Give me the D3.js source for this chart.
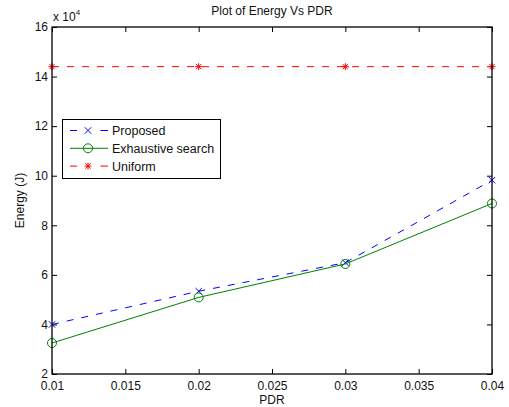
<!DOCTYPE html>
<html>
<head>
<meta charset="utf-8">
<script src="https://cdn.jsdelivr.net/npm/d3@7/dist/d3.min.js"></script>
<style>
  html, body { margin: 0; padding: 0; background: #fff; }
  svg { display: block; font-family: "Liberation Sans", Arial, Helvetica, sans-serif; }
</style>
</head>
<body>
<svg id="chart" width="509" height="407"></svg>
<script>
// PDR values on the x axis
const pdr = [0.01, 0.02, 0.03, 0.04];
// Energy (J) for each scheme
const proposed   = [40000, 53400, 64900, 98200];
const exhaustive = [32500, 50900, 64400, 88800];
const uniform    = [144000, 144000, 144000, 144000];

const xTicks = [0.01, 0.015, 0.02, 0.025, 0.03, 0.035, 0.04];
const yTicks = [2, 4, 6, 8, 10, 12, 14, 16];
const yScaleFactor = 1e4;

const svg = d3.select("#chart");
const m = { left: 52, right: 17, top: 27, bottom: 33 };
const W = 509, H = 407;
const x = d3.scaleLinear().domain([0.01, 0.04]).range([m.left, W - m.right]);
const y = d3.scaleLinear().domain([2, 16]).range([H - m.bottom, m.top]);

const plot = svg.append("g");
const FS = 12;

// Bottom and left axes with inward ticks
const xAxis = svg.append("g").attr("transform", `translate(0,${H - m.bottom})`)
  .call(d3.axisBottom(x).tickValues(xTicks).tickSizeInner(-5).tickSizeOuter(0).tickPadding(7)
    .tickFormat(d => String(+d.toFixed(3))));
const yAxis = svg.append("g").attr("transform", `translate(${m.left},0)`)
  .call(d3.axisLeft(y).tickValues(yTicks).tickSizeInner(-5).tickSizeOuter(0).tickPadding(4)
    .tickFormat(d3.format("d")));
// Top and right axes: ticks only
const xTop = svg.append("g").attr("transform", `translate(0,${m.top})`)
  .call(d3.axisTop(x).tickValues(xTicks).tickSizeInner(-5).tickSizeOuter(0).tickFormat(""));
const yRight = svg.append("g").attr("transform", `translate(${W - m.right},0)`)
  .call(d3.axisRight(y).tickValues(yTicks).tickSizeInner(-5).tickSizeOuter(0).tickFormat(""));

[xAxis, yAxis, xTop, yRight].forEach(g => {
  g.select(".domain").remove();
  g.selectAll(".tick line").attr("stroke", "#000").attr("stroke-width", 1);
  g.selectAll("text").attr("font-size", FS).attr("fill", "#111")
    .attr("font-family", "Liberation Sans, Arial, sans-serif");
});

// Frame
svg.append("rect")
  .attr("x", m.left).attr("y", m.top)
  .attr("width", W - m.left - m.right).attr("height", H - m.top - m.bottom)
  .attr("fill", "none").attr("stroke", "#000").attr("stroke-width", 1.3);

// Exponent label
const expLbl = svg.append("text").attr("x", m.left + 1).attr("y", 21)
  .attr("font-size", FS).attr("fill", "#111");
expLbl.append("tspan").text("x 10");
expLbl.append("tspan").attr("font-size", 8).attr("dy", -6).text("4");

// Title and axis labels
svg.append("text").attr("x", (m.left + W - m.right) / 2).attr("y", 15)
  .attr("text-anchor", "middle").attr("font-size", FS).attr("fill", "#111")
  .text("Plot of Energy Vs PDR");
svg.append("text").attr("x", (m.left + W - m.right) / 2).attr("y", 404)
  .attr("text-anchor", "middle").attr("font-size", FS).attr("fill", "#111").text("PDR");
svg.append("text").attr("transform", `translate(24,${(m.top + H - m.bottom) / 2}) rotate(-90)`)
  .attr("text-anchor", "middle").attr("font-size", FS).attr("fill", "#111").text("Energy (J)");

// Marker drawers
function drawMarker(g, type, cx, cy, color) {
  if (type === "x") {
    const s = 3.2;
    g.append("path").attr("d", `M${cx - s},${cy - s}L${cx + s},${cy + s}M${cx - s},${cy + s}L${cx + s},${cy - s}`)
      .attr("stroke", color).attr("stroke-width", 1).attr("fill", "none");
  } else if (type === "o") {
    g.append("circle").attr("cx", cx).attr("cy", cy).attr("r", 4.5)
      .attr("stroke", color).attr("stroke-width", 1).attr("fill", "none");
  } else if (type === "*") {
    const s = 3.5, d = 2.6;
    g.append("path").attr("d",
      `M${cx - s},${cy}L${cx + s},${cy}M${cx},${cy - s}L${cx},${cy + s}` +
      `M${cx - d},${cy - d}L${cx + d},${cy + d}M${cx - d},${cy + d}L${cx + d},${cy - d}`)
      .attr("stroke", color).attr("stroke-width", 1).attr("fill", "none");
  }
}

const series = [
  { name: "Proposed", values: proposed, color: "#0000ff", dash: "7,8", marker: "x" },
  { name: "Exhaustive search", values: exhaustive, color: "#008000", dash: null, marker: "o" },
  { name: "Uniform", values: uniform, color: "#ff0000", dash: "7,8", marker: "*" }
];

const line = d3.line().x(d => x(d[0])).y(d => y(d[1] / yScaleFactor));

series.forEach(s => {
  const pts = pdr.map((p, i) => [p, s.values[i]]);
  plot.append("path").datum(pts).attr("d", line)
    .attr("fill", "none").attr("stroke", s.color).attr("stroke-width", 1)
    .attr("stroke-dasharray", s.dash);
  pts.forEach(p => drawMarker(plot, s.marker, x(p[0]), y(p[1] / yScaleFactor), s.color));
});

// Legend
const lg = svg.append("g");
lg.append("rect").attr("x", 62.5).attr("y", 119.5).attr("width", 158).attr("height", 59)
  .attr("fill", "#fff").attr("stroke", "#000").attr("stroke-width", 1);
series.forEach((s, i) => {
  const ly = 130.5 + i * 17.8;
  if (s.dash) {
    // dash | marker | dash
    [[70, 77], [100.5, 108]].forEach(([a, b]) =>
      lg.append("line").attr("x1", a).attr("x2", b).attr("y1", ly).attr("y2", ly)
        .attr("stroke", s.color).attr("stroke-width", 1));
  } else {
    lg.append("line").attr("x1", 70).attr("x2", 108).attr("y1", ly).attr("y2", ly)
      .attr("stroke", s.color).attr("stroke-width", 1);
  }
  drawMarker(lg, s.marker, 88, ly, s.color);
  lg.append("text").attr("x", 112).attr("y", ly + 4.5).attr("font-size", 12.5).attr("fill", "#111").text(s.name);
});
</script>
</body>
</html>
